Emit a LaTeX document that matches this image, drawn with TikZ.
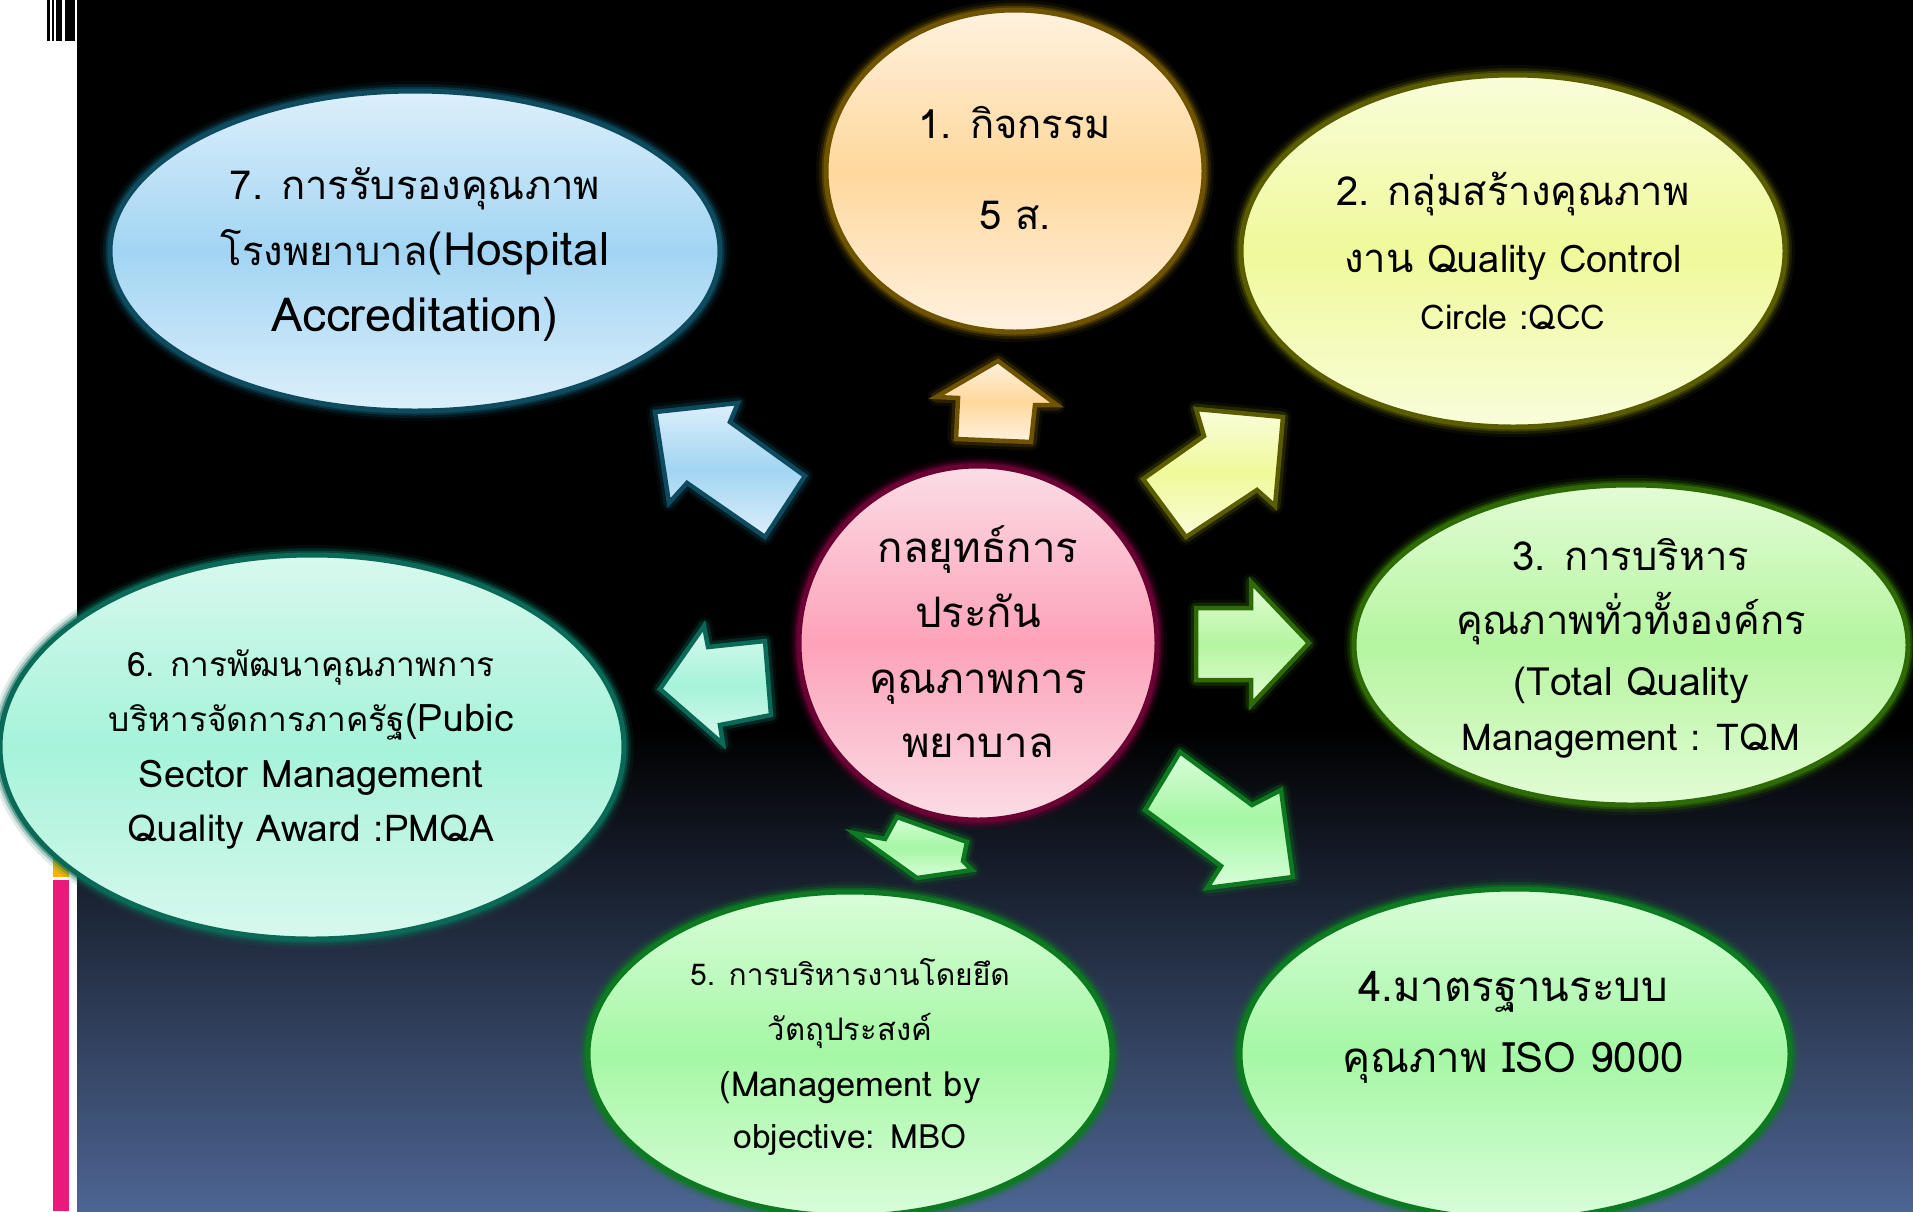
\documentclass[tikz,border=0pt]{standalone}
\usepackage{fontspec}
\setmainfont[Script=Thai]{Loma}
\usetikzlibrary{shapes.geometric}

% ---- palette ----
\definecolor{bgbot}{HTML}{4D6593}
\definecolor{barpink}{HTML}{EB1979}
\definecolor{barorange}{HTML}{FFB200}
\definecolor{bargreen}{HTML}{8CC63F}

\definecolor{blueB}{HTML}{0E4B5E}\definecolor{blueL}{HTML}{DCEFFB}\definecolor{blueM}{HTML}{A2D5F3}
\definecolor{oranB}{HTML}{6E5400}\definecolor{oranL}{HTML}{FFF1DF}\definecolor{oranM}{HTML}{FFD89C}
\definecolor{yelB}{HTML}{5A5C00}\definecolor{yelL}{HTML}{F9FDDA}\definecolor{yelM}{HTML}{F0F99A}
\definecolor{tqmB}{HTML}{2E6A06}\definecolor{tqmL}{HTML}{E3FCD5}\definecolor{tqmM}{HTML}{B5F5A0}
\definecolor{grnB}{HTML}{0D7A22}\definecolor{grnL}{HTML}{D9FDD9}\definecolor{grnM}{HTML}{A5F7A5}
\definecolor{cyaB}{HTML}{0B6A57}\definecolor{cyaL}{HTML}{D8F8EE}\definecolor{cyaM}{HTML}{A6F3DA}
\definecolor{pnkB}{HTML}{6A0233}\definecolor{pnkL}{HTML}{FBDDE5}\definecolor{pnkM}{HTML}{FDA2B9}

% a run of text at a given size (in px-sized points)
\newcommand\sz[2]{{\fontsize{#1}{#1}\selectfont #2}}

\tikzset{
  bubble/.style n args={3}{
    ellipse, inner sep=0pt, draw=#1, line width=5pt,
    top color=#2, bottom color=#2, middle color=#3,
    preaction={draw=#1, line width=20pt, draw opacity=0.12},
    preaction={draw=#1, line width=14pt, draw opacity=0.25},
    preaction={draw=#1, line width=9pt, draw opacity=0.5}},
  blockarrow/.style n args={3}{
    draw=#1, line width=4.5pt, line join=miter,
    top color=#2, bottom color=#2, middle color=#3,
    preaction={draw=#1, line width=17pt, draw opacity=0.12, line join=round},
    preaction={draw=#1, line width=11pt, draw opacity=0.3, line join=round}},
  txt/.style={anchor=base, inner sep=0pt, text=black},
}

\begin{document}
\begin{tikzpicture}[x=1pt, y=-1pt]
\useasboundingbox (0,0) rectangle (1913,1211);
\clip (0,0) rectangle (1913,1211);

% ---- page background ----
\fill[white] (0,0) rectangle (77,1211);
\fill[black] (77,0) rectangle (1913,1211);
\shade[top color=black, bottom color=bgbot] (77,730) rectangle (1913,1211);

% ---- side ornaments ----
\fill[black] (47,0) rectangle (50,41);
\fill[black] (52,0) rectangle (54,41);
\fill[black] (56,0) rectangle (62,41);
\fill[black] (65,0) rectangle (75,41);
\shade[top color=bargreen, bottom color=barorange] (53,830) rectangle (69,876);
\fill[barpink] (53,880) rectangle (69,1211);

% ---- outer bubbles ----
\node[bubble={blueB}{blueL}{blueM}, minimum width=610, minimum height=320] (e7) at (415,251) {};
\node[bubble={oranB}{oranL}{oranM}, minimum width=378, minimum height=322] (e1) at (1015,171) {};
\node[bubble={yelB}{yelL}{yelM}, minimum width=544, minimum height=352] (e2) at (1513,251) {};
\node[bubble={tqmB}{tqmL}{tqmM}, minimum width=554, minimum height=320] (e3) at (1631,645) {};
\node[bubble={grnB}{grnL}{grnM}, minimum width=550, minimum height=330] (e4) at (1515,1054) {};
\node[bubble={grnB}{grnL}{grnM}, minimum width=524, minimum height=324] (e5) at (850,1054) {};
\node[bubble={cyaB}{cyaL}{cyaM}, minimum width=624, minimum height=384] (e6) at (312,747) {};

% ---- block arrows ----
\draw[blockarrow={oranB}{oranL}{oranM}]
  (998,361) -- (1057,405) -- (1035,405) -- (1031,442) -- (956,439) -- (958,398) -- (936,397) -- cycle;
\draw[blockarrow={blueB}{blueL}{blueM}]
  (655,412) -- (738,403) -- (730,422) -- (805,476) -- (765,537) -- (687,483) -- (669,503) -- cycle;
\draw[blockarrow={cyaB}{cyaL}{cyaM}]
  (660,689) -- (704,626) -- (708,647) -- (765,641) -- (771,715) -- (720,725) -- (723,744) -- cycle;
\draw[blockarrow={yelB}{yelL}{yelM}]
  (1143,479) -- (1204,436) -- (1196,409) -- (1283,417) -- (1275,506) -- (1257,490) -- (1186,537) -- cycle;
\draw[blockarrow={tqmB}{tqmL}{tqmM}]
  (1196,608) -- (1251,608) -- (1251,582) -- (1309,643) -- (1251,705) -- (1251,680) -- (1196,680) -- cycle;
\draw[blockarrow={grnB}{grnL}{grnM}]
  (1180,752) -- (1252,805) -- (1281,790) -- (1293,877) -- (1207,888) -- (1221,866) -- (1145,810) -- cycle;
\draw[blockarrow={grnB}{grnL}{grnM}]
  (854,833) -- (885,839) -- (897,817) -- (967,842) -- (963,861) -- (972,870) -- (917,878) -- cycle;

% ---- central bubble ----
\node[bubble={pnkB}{pnkL}{pnkM}, minimum width=358, minimum height=354] (core) at (978,643) {};

% ---- labels ----
\node[txt] (t1a) at (1015,138) {\sz{40}{1. กิจกรรม}};
\node[txt] (t1b) at (1015,229) {\sz{40}{5 ส.}};

\node[txt] (t2a) at (1513,205) {\sz{40}{2. กลุ่มสร้างคุณภาพ}};
\node[txt] (t2b) at (1513,272) {\sz{40}{งาน }\sz{38}{Quality Control}};
\node[txt] (t2c) at (1513,329) {\sz{34}{Circle :QCC}};

\node[txt] (t3a) at (1631,570) {\sz{40}{3. การบริหาร}};
\node[txt] (t3b) at (1631,634) {\sz{40}{คุณภาพทั่วทั้งองค์กร}};
\node[txt] (t3c) at (1631,695) {\sz{39}{(Total Quality}};
\node[txt] (t3d) at (1631,750) {\sz{37}{Management : TQM}};

\node[txt] (t4a) at (1513,1001) {\sz{42}{4.มาตรฐานระบบ}};
\node[txt] (t4b) at (1513,1072) {\sz{42}{คุณภาพ ISO 9000}};

\node[txt] (t5a) at (850,985) {\sz{30}{5. การบริหารงานโดยยึด}};
\node[txt] (t5b) at (850,1040) {\sz{31}{วัตถุประสงค์}};
\node[txt] (t5c) at (850,1096) {\sz{34.5}{(Management by}};
\node[txt] (t5d) at (850,1148) {\sz{33.5}{objective: MBO}};

\node[txt] (t6a) at (311,676) {\sz{33.5}{6. การพัฒนาคุณภาพการ}};
\node[txt] (t6b) at (311,731) {\sz{33.5}{บริหารจัดการภาครัฐ}\sz{38}{(Pubic}};
\node[txt] (t6c) at (311,787) {\sz{38}{Sector Management}};
\node[txt] (t6d) at (311,841) {\sz{37}{Quality Award :PMQA}};

\node[txt] (t7a) at (415,199) {\sz{40}{7. การรับรองคุณภาพ}};
\node[txt] (t7b) at (415,265) {\sz{40}{โรงพยาบาล}\sz{46}{(Hospital}};
\node[txt] (t7c) at (415,331) {\sz{47}{Accreditation)}};

\node[txt] (tca) at (978,562) {\sz{42}{กลยุทธ์การ}};
\node[txt] (tcb) at (978,627) {\sz{42}{ประกัน}};
\node[txt] (tcc) at (978,693) {\sz{42}{คุณภาพการ}};
\node[txt] (tcd) at (978,757) {\sz{42}{พยาบาล}};
\end{tikzpicture}
\end{document}
